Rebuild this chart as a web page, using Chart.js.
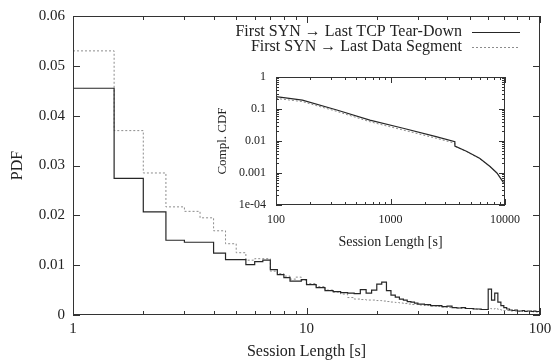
<!DOCTYPE html>
<html>
<head>
<meta charset="utf-8">
<script src="https://cdn.jsdelivr.net/npm/chart.js@4.4.1/dist/chart.umd.min.js"></script>
<style>
body { margin: 0; background: #fff; }
#wrap { position: relative; width: 554px; height: 361px; }
#inset { position: absolute; left: 210px; top: 65px; }
</style>
</head>
<body>
<div id="wrap">
<canvas id="main" width="554" height="361"></canvas>
<canvas id="inset" width="325" height="190"></canvas>
</div>
<script>
// histogram bin edges (s), last entry closes the final bin
const binEdges = [1, 1.5, 2, 2.5, 3, 3.5, 4, 4.5, 5, 5.5, 6, 6.5, 7, 7.5, 8, 8.5, 9, 9.5,
  10, 11, 12, 13, 14, 15, 16, 17, 18, 19, 20, 21, 22, 23, 24, 25, 26, 27, 28, 29,
  30, 32, 34, 36, 38, 40, 42, 44, 46, 48, 50, 52, 54, 56, 58, 60, 62, 64, 66, 68,
  70, 72, 74, 76, 78, 80, 82, 84, 86, 88, 90, 92, 94, 96, 98, 100];

const tearDown = [0.0455, 0.0274, 0.0207, 0.0150, 0.0146, 0.0146, 0.0124, 0.0111, 0.0111, 0.0101,
  0.0107, 0.0110, 0.0091, 0.0081, 0.0075, 0.0068, 0.0068, 0.0071,
  0.0061, 0.0055, 0.0049, 0.0047, 0.0045, 0.0044, 0.0043, 0.0051, 0.0044, 0.0050,
  0.0062, 0.0066, 0.0049, 0.0040, 0.0036, 0.0032, 0.0030, 0.0027, 0.0026, 0.0024,
  0.0022, 0.0021, 0.0019, 0.0019, 0.0017, 0.0018, 0.0015, 0.0014, 0.0015, 0.0013,
  0.0013, 0.0012, 0.0012, 0.0011, 0.0011, 0.0052, 0.0030, 0.0044, 0.0026, 0.0019,
  0.0015, 0.0012, 0.0010, 0.0009, 0.0010, 0.0008, 0.0008, 0.0009, 0.0007, 0.0008,
  0.0008, 0.0007, 0.0008, 0.0007, 0.0007];

const dataSeg = [0.0530, 0.0370, 0.0285, 0.0217, 0.0208, 0.0195, 0.0169, 0.0143, 0.0125, 0.0110,
  0.0113, 0.0113, 0.0088, 0.0083, 0.0078, 0.0072, 0.0076, 0.0070,
  0.0063, 0.0057, 0.0050, 0.0046, 0.0042, 0.0035, 0.0032, 0.0031, 0.0030, 0.0030,
  0.0029, 0.0028, 0.0027, 0.0026, 0.0025, 0.0024, 0.0023, 0.0022, 0.0021, 0.0021,
  0.0020, 0.0019, 0.0018, 0.0017, 0.0016, 0.0015, 0.0015, 0.0014, 0.0013, 0.0013,
  0.0012, 0.0012, 0.0011, 0.0011, 0.0011, 0.0013, 0.0012, 0.0013, 0.0011, 0.0010,
  0.0009, 0.0009, 0.0008, 0.0008, 0.0008, 0.0007, 0.0008, 0.0007, 0.0007, 0.0007,
  0.0007, 0.0006, 0.0007, 0.0006, 0.0006];

const seriesLabels = ['First SYN \u2192 Last TCP Tear-Down', 'First SYN \u2192 Last Data Segment'];

const xTickVals = [1, 10, 100];
const xTickLabels = ['1', '10', '100'];
const yTickVals = [0, 0.01, 0.02, 0.03, 0.04, 0.05, 0.06];
const yTickLabels = ['0', '0.01', '0.02', '0.03', '0.04', '0.05', '0.06'];

// inset: complementary CDF
const insetX = [100, 170, 340, 660, 1290, 2500, 3650, 3650, 4600, 6000, 7400, 8500, 9700];
const ccdfTearDown = [0.245, 0.19, 0.093, 0.045, 0.025, 0.0137, 0.0095, 0.0069, 0.0048, 0.0029, 0.0016, 0.0010, 0.0005];
const ccdfDataSeg = [0.215, 0.17, 0.084, 0.040, 0.022, 0.0122, 0.0085, 0.0068, 0.0047, 0.0028, 0.0016, 0.0010, 0.0005];
const insetXTicks = [100, 1000, 10000];
const insetXLabels = ['100', '1000', '10000'];
const insetYTicks = [1e-4, 1e-3, 1e-2, 1e-1, 1];
const insetYLabels = ['1e-04', '0.001', '0.01', '0.1', '1'];

Chart.defaults.font.family = '"Liberation Serif", "DejaVu Serif", serif';
Chart.defaults.color = '#222';

function minorTicks(from, to) {
  const out = [];
  for (let d = from; d < to; d *= 10) {
    for (let m = 2; m <= 9; m++) out.push(d * m);
  }
  return out;
}

function stepPoints(edges, vals) {
  return edges.map((e, i) => ({x: e, y: vals[Math.min(i, vals.length - 1)]}));
}

// gnuplot-like frame with inward ticks on all four sides
const frameTicks = {
  id: 'frameTicks',
  afterDatasetsDraw(chart, args, o) {
    const {ctx, chartArea: a} = chart;
    const sx = chart.scales.x, sy = chart.scales.y;
    ctx.save();
    ctx.strokeStyle = o.color;
    ctx.lineWidth = 1;
    ctx.setLineDash([]);
    ctx.beginPath();
    const tick = (vals, len, horiz) => vals.forEach(v => {
      if (horiz) {
        const px = Math.round(sx.getPixelForValue(v)) + 0.5;
        ctx.moveTo(px, a.bottom); ctx.lineTo(px, a.bottom - len);
        ctx.moveTo(px, a.top); ctx.lineTo(px, a.top + len);
      } else {
        const py = Math.round(sy.getPixelForValue(v)) + 0.5;
        ctx.moveTo(a.left, py); ctx.lineTo(a.left + len, py);
        ctx.moveTo(a.right, py); ctx.lineTo(a.right - len, py);
      }
    });
    tick(o.xMajor, o.major, true);
    tick(o.xMinor, o.minor, true);
    tick(o.yMajor, o.major, false);
    tick(o.yMinor, o.minor, false);
    ctx.stroke();
    ctx.strokeRect(a.left + 0.5, a.top + 0.5, a.width - 1, a.height - 1);
    ctx.restore();
  }
};

// legend inside the plot: text right aligned, line sample on the right
const lineLegend = {
  id: 'lineLegend',
  afterDraw(chart, args, o) {
    const ctx = chart.ctx;
    ctx.save();
    ctx.font = o.font;
    ctx.fillStyle = '#222';
    ctx.textAlign = 'right';
    ctx.textBaseline = 'middle';
    chart.data.datasets.forEach((ds, i) => {
      const y = o.top + i * o.gap;
      ctx.fillText(ds.label, o.textRight, y);
      ctx.strokeStyle = ds.borderColor;
      ctx.lineWidth = ds.borderWidth;
      ctx.setLineDash(ds.borderDash || []);
      ctx.beginPath();
      ctx.moveTo(o.lineFrom, Math.round(y) + 0.5);
      ctx.lineTo(o.lineTo, Math.round(y) + 0.5);
      ctx.stroke();
    });
    ctx.restore();
  }
};

new Chart(document.getElementById('main'), {
  type: 'line',
  data: {
    datasets: [{
      label: seriesLabels[0],
      data: stepPoints(binEdges, tearDown),
      stepped: 'before',
      borderColor: '#262626',
      borderWidth: 1.2,
      pointRadius: 0,
      fill: false
    }, {
      label: seriesLabels[1],
      data: stepPoints(binEdges, dataSeg),
      stepped: 'before',
      borderColor: '#8c8c8c',
      borderWidth: 1,
      borderDash: [2, 2],
      pointRadius: 0,
      fill: false
    }]
  },
  options: {
    responsive: false,
    animation: false,
    devicePixelRatio: 1,
    layout: { padding: { top: 16, right: 14, left: 0, bottom: 0 } },
    scales: {
      x: {
        type: 'logarithmic',
        min: 1,
        max: 100,
        afterBuildTicks: s => { s.ticks = xTickVals.map(v => ({value: v})); },
        afterFit: s => { s.height = 46; s.paddingLeft = 0; s.paddingRight = 0; },
        ticks: { callback: (v, i) => xTickLabels[i], autoSkip: false, maxRotation: 0, padding: 5, font: { size: 15 } },
        grid: { display: false, drawTicks: false },
        border: { display: false },
        title: { display: true, text: 'Session Length [s]', font: { size: 16 }, padding: { top: 0, bottom: 0 } }
      },
      y: {
        type: 'linear',
        min: 0,
        max: 0.06,
        afterBuildTicks: s => { s.ticks = yTickVals.map(v => ({value: v})); },
        afterFit: s => { s.width = 73; s.paddingTop = 0; s.paddingBottom = 0; },
        ticks: { callback: (v, i) => yTickLabels[i], padding: 8, font: { size: 15 } },
        grid: { display: false, drawTicks: false },
        border: { display: false },
        title: { display: true, text: 'PDF', font: { size: 16 }, padding: { top: 8, bottom: 0 } }
      }
    },
    plugins: {
      legend: { display: false },
      tooltip: { enabled: false },
      frameTicks: {
        color: '#333',
        major: 7, minor: 4,
        xMajor: xTickVals, xMinor: minorTicks(1, 100),
        yMajor: yTickVals, yMinor: []
      },
      lineLegend: {
        font: '16px "Liberation Serif", serif',
        textRight: 462, top: 32, gap: 14.5, lineFrom: 472, lineTo: 520
      }
    }
  },
  plugins: [frameTicks, lineLegend]
});

new Chart(document.getElementById('inset'), {
  type: 'line',
  data: {
    datasets: [{
      label: seriesLabels[0],
      data: insetX.map((v, i) => ({x: v, y: ccdfTearDown[i]})),
      borderColor: '#262626',
      borderWidth: 1.2,
      pointRadius: 0,
      fill: false
    }, {
      label: seriesLabels[1],
      data: insetX.map((v, i) => ({x: v, y: ccdfDataSeg[i]})),
      borderColor: '#8c8c8c',
      borderWidth: 1,
      borderDash: [2, 2],
      pointRadius: 0,
      fill: false
    }]
  },
  options: {
    responsive: false,
    animation: false,
    devicePixelRatio: 1,
    layout: { padding: { top: 12, right: 30, left: 0, bottom: 0 } },
    scales: {
      x: {
        type: 'logarithmic',
        min: 100,
        max: 10000,
        afterBuildTicks: s => { s.ticks = insetXTicks.map(v => ({value: v})); },
        afterFit: s => { s.height = 50; s.paddingLeft = 0; s.paddingRight = 0; },
        ticks: { callback: (v, i) => insetXLabels[i], autoSkip: false, maxRotation: 0, padding: 8, font: { size: 12 } },
        grid: { display: false, drawTicks: false },
        border: { display: false },
        title: { display: true, text: 'Session Length [s]', font: { size: 14 }, padding: { top: 0, bottom: 4 } }
      },
      y: {
        type: 'logarithmic',
        min: 1e-4,
        max: 1,
        afterBuildTicks: s => { s.ticks = insetYTicks.map(v => ({value: v})); },
        afterFit: s => { s.width = 66; s.paddingTop = 0; s.paddingBottom = 0; },
        ticks: { callback: (v, i) => insetYLabels[i], padding: 10, font: { size: 12 } },
        grid: { display: false, drawTicks: false },
        border: { display: false },
        title: { display: true, text: 'Compl. CDF', font: { size: 13 }, padding: { top: 5, bottom: 0 } }
      }
    },
    plugins: {
      legend: { display: false },
      tooltip: { enabled: false },
      frameTicks: {
        color: '#333',
        major: 6, minor: 3,
        xMajor: insetXTicks, xMinor: minorTicks(100, 10000),
        yMajor: insetYTicks, yMinor: minorTicks(1e-4, 1)
      }
    }
  },
  plugins: [frameTicks]
});
</script>
</body>
</html>
